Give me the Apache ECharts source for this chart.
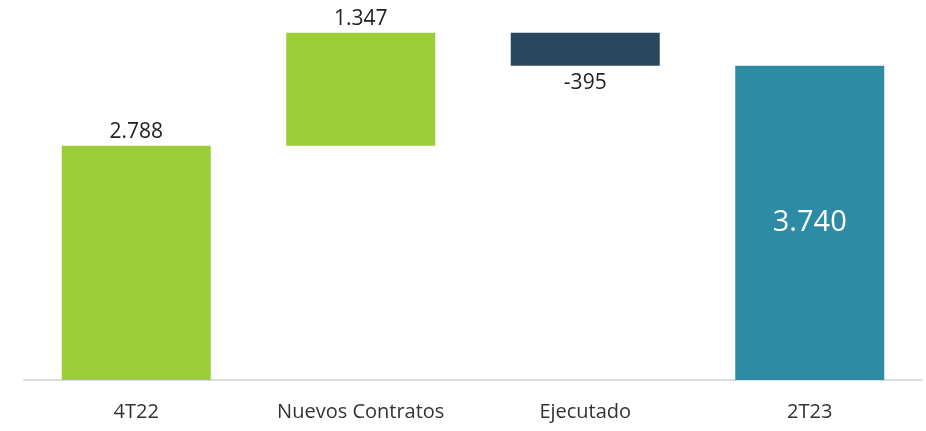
<!DOCTYPE html>
<html>
<head>
<meta charset="UTF-8">
<title></title>
<script src="https://cdn.jsdelivr.net/npm/echarts@6/dist/echarts.min.js"></script>
<style>
  html, body { margin: 0; padding: 0; background: #fff; }
  #chart { width: 926px; height: 431px; }
</style>
</head>
<body>
<div id="chart"></div>
<script>
var categories = ['4T22', 'Nuevos Contratos', 'Ejecutado', '2T23'];
var values = [2788, 1347, -395, 3740];
var isTotal = [true, false, false, true];
var colors = ['#9ACD38', '#9ACD38', '#2A475D', '#2E8BA6'];

// build waterfall: invisible base + visible part
var base = [], shown = [];
var running = 0;
for (var i = 0; i < values.length; i++) {
  if (isTotal[i]) {
    base.push(0);
    shown.push(values[i]);
    running = values[i];
  } else if (values[i] >= 0) {
    base.push(running);
    shown.push(values[i]);
    running += values[i];
  } else {
    running += values[i];
    base.push(running);
    shown.push(-values[i]);
  }
}

function fmt(v) {
  var s = Math.abs(v).toString().replace(/\B(?=(\d{3})+(?!\d))/g, '.');
  return (v < 0 ? '-' : '') + s;
}

var shownData = shown.map(function (v, i) {
  var lbl = { show: true, position: 'top', color: '#222', fontSize: 21, distance: 3 };
  if (values[i] < 0) lbl = { show: true, position: 'bottom', color: '#222', fontSize: 21, distance: 7 };
  if (i === 3) lbl = { show: true, position: 'inside', color: '#fff', fontSize: 29 };
  return { value: v, itemStyle: { color: colors[i] }, label: lbl };
});

var chart = echarts.init(document.getElementById('chart'));
chart.setOption({
  animation: false,
  textStyle: { fontFamily: 'Open Sans' },
  grid: { left: 24, right: 4, top: 2, bottom: 51, containLabel: false },
  xAxis: {
    type: 'category',
    data: categories,
    axisLine: { lineStyle: { color: '#dddddd', width: 2 } },
    axisTick: { show: false },
    axisLabel: { color: '#333', fontSize: 20, margin: 22, interval: 0 }
  },
  yAxis: {
    type: 'value', min: 0, max: 4500,
    show: false,
    splitLine: { show: false }
  },
  series: [
    {
      type: 'bar', stack: 'w', data: base,
      itemStyle: { color: 'transparent' },
      barWidth: 149, silent: true
    },
    {
      type: 'bar', stack: 'w', data: shownData,
      barWidth: 149,
      label: {
        formatter: function (p) { return fmt(values[p.dataIndex]); }
      }
    }
  ]
});
</script>
</body>
</html>
